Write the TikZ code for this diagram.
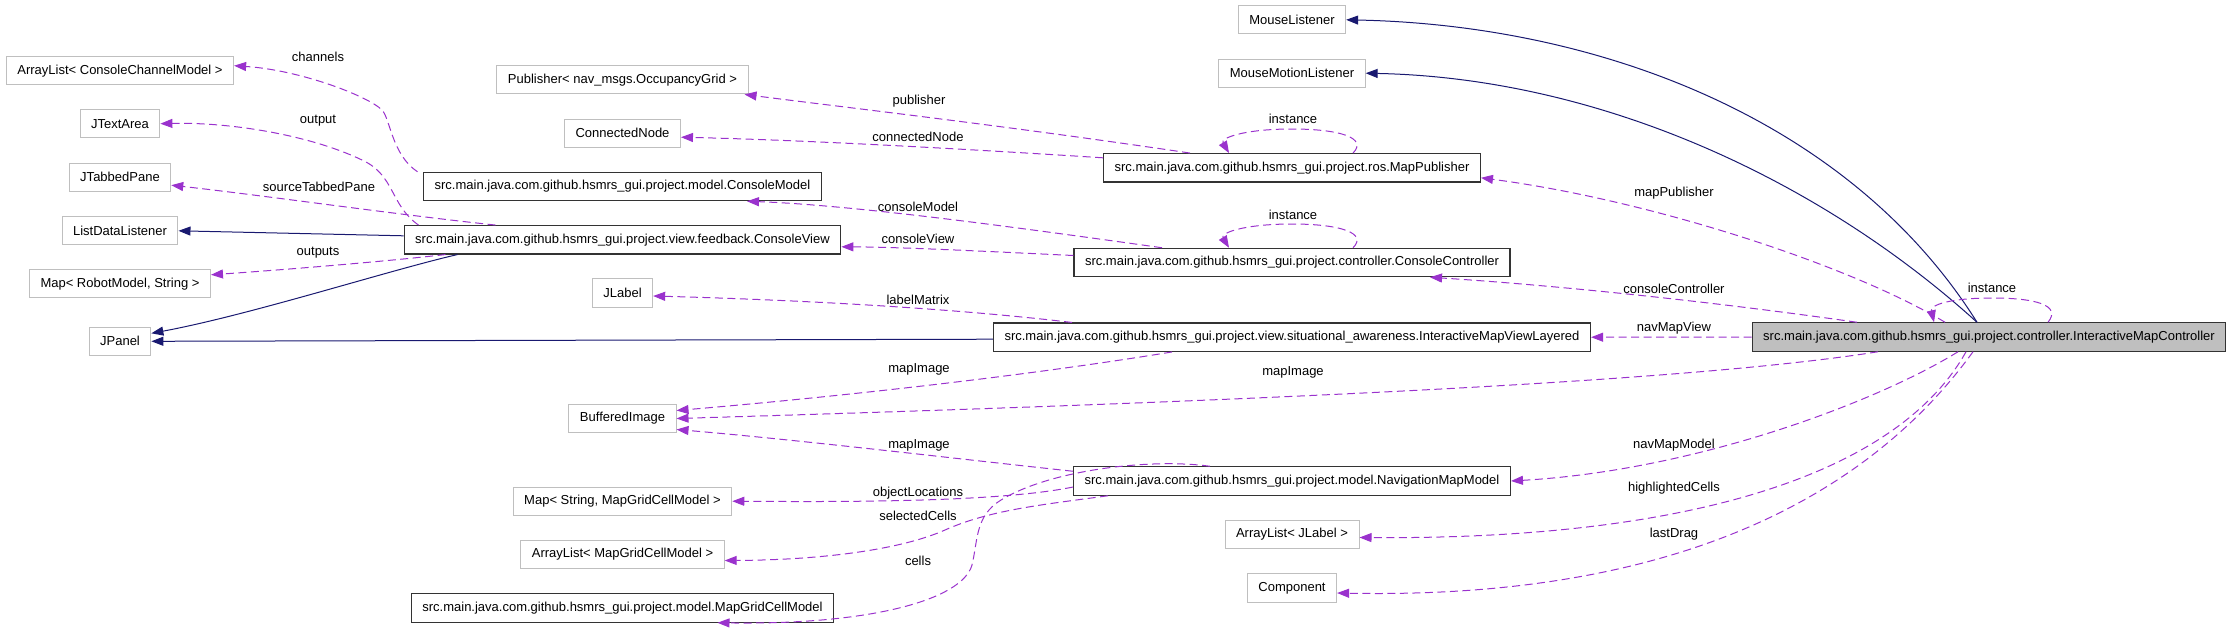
\documentclass[tikz,border=0pt]{standalone}
\usepackage{fontspec}
\setmainfont{Liberation Sans}
\usetikzlibrary{arrows.meta}
\definecolor{grey75}{HTML}{BFBFBF}
\definecolor{orchid}{HTML}{9A32CD}
\definecolor{midblue}{HTML}{191970}

\begin{document}
\begin{tikzpicture}[x=1pt, y=-1pt]
    \tikzstyle{every node}=[font=\fontsize{13}{15}\selectfont]
    \tikzstyle{extcls}=[draw=grey75, line width=1pt, fill=white, minimum height=28.3pt, inner xsep=11pt, inner ysep=0pt]
    \tikzstyle{prjcls}=[extcls, draw=black!80, line width=1.2pt]
    \tikzstyle{maincls}=[prjcls, fill=grey75]
    \tikzstyle{inherit}=[draw=midblue, line width=1pt, -{Triangle[length=12pt,width=9pt]}]
    \tikzstyle{usage}=[draw=orchid, line width=1pt, dash pattern=on 8pt off 4.5pt, -{Triangle[length=12pt,width=9pt]}]
    \tikzstyle{lbl}=[inner sep=0pt]
    \useasboundingbox (0,0) rectangle (2235,630);

    % external classes, left column
    \node [extcls] (ccmlist) at (120,70.7) {ArrayList< ConsoleChannelModel >};
    \node [extcls] (textarea) at (120,123.7) {JTextArea};
    \node [extcls] (tabpane) at (120,177.2) {JTabbedPane};
    \node [extcls] (listlis) at (120,230.8) {ListDataListener};
    \node [extcls] (robmap) at (120,283.8) {Map< RobotModel, String >};
    \node [extcls] (jpanel) at (120,341.3) {JPanel};

    % second column
    \node [extcls] (pub) at (622.5,79.8) {Publisher< nav\_msgs.OccupancyGrid >};
    \node [extcls] (connnode) at (622.5,133.2) {ConnectedNode};
    \node [prjcls] (cmodel) at (622.5,186.5) {src.main.java.com.github.hsmrs\_gui.project.model.ConsoleModel};
    \node [prjcls] (cview) at (622.5,239.8) {src.main.java.com.github.hsmrs\_gui.project.view.feedback.ConsoleView};
    \node [extcls] (jlabel) at (622.5,293) {JLabel};
    \node [extcls] (bufimg) at (622.5,418.5) {BufferedImage};
    \node [extcls] (cellmap) at (622.5,501.2) {Map< String, MapGridCellModel >};
    \node [extcls] (celllist) at (622.5,554.5) {ArrayList< MapGridCellModel >};
    \node [prjcls] (cellmodel) at (622.5,608) {src.main.java.com.github.hsmrs\_gui.project.model.MapGridCellModel};

    % third column
    \node [extcls] (mouselis) at (1292,19.8) {MouseListener};
    \node [extcls] (motionlis) at (1292,73.2) {MouseMotionListener};
    \node [prjcls] (mappub) at (1292,167.8) {src.main.java.com.github.hsmrs\_gui.project.ros.MapPublisher};
    \node [prjcls] (cctrl) at (1292,262.5) {src.main.java.com.github.hsmrs\_gui.project.controller.ConsoleController};
    \node [prjcls] (mapview) at (1292,337.2) {src.main.java.com.github.hsmrs\_gui.project.view.situational\_awareness.InteractiveMapViewLayered};
    \node [prjcls] (navmodel) at (1292,481) {src.main.java.com.github.hsmrs\_gui.project.model.NavigationMapModel};
    \node [extcls] (labellist) at (1292,534.5) {ArrayList< JLabel >};
    \node [extcls] (comp) at (1292,588) {Component};

    % the class itself
    \node [maincls] (imc) at (1989,337) {src.main.java.com.github.hsmrs\_gui.project.controller.InteractiveMapController};

    % inheritance
    \draw [inherit] ([xshift=-12]imc.north) .. controls (1850,120) and (1600,25) .. (mouselis.east);
    \draw [inherit] ([xshift=-12]imc.north) .. controls (1820,180) and (1600,78) .. (motionlis.east);
    \draw [inherit] ([yshift=4]cview.west) -- (listlis.east);
    \draw [inherit] ([xshift=-165]cview.south) .. controls (390,270) and (250,315) .. ([yshift=8]jpanel.east);
    \draw [inherit] ([yshift=-2]mapview.west) -- (jpanel.east);

    % members
    \draw [usage] ([xshift=-205]cmodel.north) .. controls (392,155) and (390,118) .. (382,110)
        .. controls (368,96) and (300,70) .. ([yshift=5]ccmlist.east);
    \node [lbl] at (318,57) {channels};
    \draw [usage] ([xshift=-204]cview.north) .. controls (390,205) and (395,175) .. (362,160)
        .. controls (310,135) and (230,122) .. (textarea.east);
    \node [lbl] at (318,121) {output};
    \draw [usage] ([xshift=-127]cview.north) .. controls (400,215) and (260,195) .. ([yshift=-8]tabpane.east);
    \node [lbl] at (319,187) {sourceTabbedPane};
    \draw [usage] ([xshift=-177]cview.south) .. controls (380,262) and (280,270) .. ([yshift=9]robmap.east);
    \node [lbl] at (318,253) {outputs};

    \draw [usage] ([xshift=-102]mappub.north) .. controls (1000,125) and (850,108) .. ([xshift=-4]pub.south east);
    \node [lbl] at (919,101) {publisher};
    \draw [usage] ([yshift=10]mappub.west) .. controls (950,148) and (800,140) .. ([yshift=-4]connnode.east);
    \node [lbl] at (918,137) {connectedNode};
    \draw [usage] ([xshift=61]mappub.north) .. controls (1368,138) and (1340,129) .. (1292,129)
        .. controls (1244,129) and (1220,138) .. ([xshift=-63]mappub.north);
    \node [lbl] at (1293,119) {instance};

    \draw [usage] ([xshift=-130]cctrl.north) .. controls (1000,225) and (850,205) .. ([xshift=-75]cmodel.south east);
    \node [lbl] at (918,207) {consoleModel};
    \draw [usage] ([yshift=7]cctrl.west) .. controls (1000,252) and (900,247) .. ([yshift=-7]cview.east);
    \node [lbl] at (918,239) {consoleView};
    \draw [usage] ([xshift=61]cctrl.north) .. controls (1368,233) and (1340,224) .. (1292,224)
        .. controls (1244,224) and (1220,233) .. ([xshift=-63]cctrl.north);
    \node [lbl] at (1293,215) {instance};

    \draw [usage] ([xshift=-220]mapview.north) .. controls (950,308) and (800,300) .. ([yshift=-3]jlabel.east);
    \node [lbl] at (918,300) {labelMatrix};
    \draw [usage] ([xshift=-120]mapview.south) .. controls (1000,380) and (800,400) .. ([yshift=8]bufimg.east);
    \node [lbl] at (919,369) {mapImage};

    \draw [usage] ([yshift=-5]navmodel.north west) .. controls (950,458) and (800,440) .. ([yshift=-11]bufimg.east);
    \node [lbl] at (919,445) {mapImage};
    \draw [usage] ([yshift=-6]navmodel.west) .. controls (1000,502) and (850,502) .. (cellmap.east);
    \node [lbl] at (918,493) {objectLocations};
    \draw [usage] ([xshift=-184]navmodel.south) .. controls (1040,505) and (990,510) .. (945,530)
        .. controls (900,550) and (820,560) .. ([yshift=-6]celllist.east);
    \node [lbl] at (918,516) {selectedCells};
    \draw [usage] ([xshift=-82]navmodel.north) .. controls (1150,458) and (1050,470) .. (1001,500)
        .. controls (975,516) and (978,540) .. (972,565)
        .. controls (962,600) and (870,625) .. ([xshift=95]cellmodel.south);
    \node [lbl] at (918,561) {cells};

    \draw [usage] ([xshift=-44]imc.north) .. controls (1850,265) and (1650,200) .. ([yshift=-10]mappub.east);
    \node [lbl] at (1674,193) {mapPublisher};
    \draw [usage] ([xshift=-132]imc.north) .. controls (1700,300) and (1550,285) .. ([xshift=138]cctrl.south);
    \node [lbl] at (1674,289) {consoleController};
    \draw [usage] ([xshift=59]imc.north) .. controls (2062,305) and (2035,298) .. (1992,298)
        .. controls (1950,298) and (1930,305) .. ([xshift=-55]imc.north);
    \node [lbl] at (1992,288) {instance};
    \draw [usage] (imc.west) -- (mapview.east);
    \node [lbl] at (1674,328) {navMapView};
    \draw [usage] ([xshift=-111]imc.south) .. controls (1700,380) and (1300,400) .. (bufimg.east);
    \node [lbl] at (1293,372) {mapImage};
    \draw [usage] ([xshift=-31]imc.south) .. controls (1880,400) and (1700,470) .. (navmodel.east);
    \node [lbl] at (1674,445) {navMapModel};
    \draw [usage] ([xshift=-23]imc.south) .. controls (1900,470) and (1700,540) .. ([yshift=-3]labellist.east);
    \node [lbl] at (1674,488) {highlightedCells};
    \draw [usage] ([xshift=-16]imc.south) .. controls (1880,480) and (1700,600) .. ([yshift=-5]comp.east);
    \node [lbl] at (1674,534) {lastDrag};
\end{tikzpicture}
\end{document}
